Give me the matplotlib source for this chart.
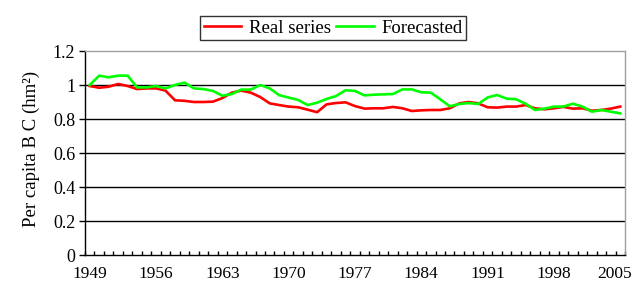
import matplotlib
matplotlib.use("Agg")
import matplotlib.pyplot as plt
import matplotlib.transforms as mtransforms
import numpy as np

years = list(range(1949, 2006))
real_series = [0.994, 0.984, 0.990, 1.006, 0.994, 0.976, 0.980, 0.980, 0.967, 0.910,
               0.907, 0.900, 0.900, 0.902, 0.923, 0.955, 0.967, 0.955, 0.929, 0.892,
               0.882, 0.873, 0.869, 0.855, 0.840, 0.886, 0.894, 0.898, 0.876, 0.861,
               0.863, 0.863, 0.871, 0.863, 0.847, 0.851, 0.853, 0.853, 0.863, 0.892,
               0.900, 0.892, 0.869, 0.867, 0.873, 0.873, 0.882, 0.863, 0.857, 0.863,
               0.871, 0.861, 0.863, 0.849, 0.853, 0.861, 0.873]
forecasted = [1.000, 1.055, 1.045, 1.055, 1.055, 0.986, 0.986, 0.994, 0.980, 1.000,
              1.014, 0.980, 0.976, 0.965, 0.937, 0.947, 0.973, 0.973, 1.000, 0.980,
              0.940, 0.926, 0.912, 0.882, 0.896, 0.918, 0.935, 0.969, 0.965, 0.939,
              0.943, 0.945, 0.947, 0.974, 0.974, 0.957, 0.955, 0.916, 0.875, 0.888,
              0.894, 0.888, 0.927, 0.941, 0.920, 0.916, 0.890, 0.853, 0.861, 0.873,
              0.873, 0.890, 0.873, 0.843, 0.853, 0.843, 0.833]
label_years = years[::7]
y_ticks = [0, 0.2, 0.4, 0.6, 0.8, 1.0, 1.2]
y_labels = ["0", "0.2", "0.4", "0.6", "0.8", "1", "1.2"]

plt.rcParams['font.family'] = ['Liberation Serif', 'DejaVu Serif']

fig = plt.figure(figsize=(6.34, 2.82), dpi=100)
ax = fig.add_axes([85/634, 27/282, 540/634, 204/282])

x = np.arange(len(years)) + 0.5
l1, = ax.plot(x, real_series, color='#ff0000', lw=1.9, label='Real series', zorder=3)
l2, = ax.plot(x, forecasted, color='#00ff00', lw=1.9, label='Forecasted', zorder=3)

ax.set_xlim(0, len(years))
ax.set_ylim(0, 1.2)

for yv in y_ticks[1:-1]:
    ax.axhline(yv, color='black', lw=1.0, zorder=1)

ax.set_yticks(y_ticks)
ax.set_yticklabels(y_labels, fontsize=13)
ax.tick_params(axis='y', direction='out', length=4, width=1, pad=3)

idx = [years.index(yv) for yv in label_years]
ax.set_xticks([i + 0.5 for i in idx])
ax.set_xticklabels([str(yv) for yv in label_years], fontsize=12.5)
ax.tick_params(axis='x', which='major', length=0, pad=8)
ax.set_xticks(np.arange(0, len(years) + 1), minor=True)
ax.tick_params(axis='x', which='minor', direction='in', length=3, width=1)

# nudge the last label so it stays inside the canvas
last = ax.get_xticklabels()[-1]
last.set_transform(last.get_transform() +
                   mtransforms.ScaledTranslation(-6/100, 0, fig.dpi_scale_trans))

for s in ['left', 'bottom']:
    ax.spines[s].set_color('black')
    ax.spines[s].set_linewidth(1.0)
for s in ['top', 'right']:
    ax.spines[s].set_color('#a0a0a0')
    ax.spines[s].set_linewidth(1.0)

ax.set_ylabel('Per capita B C (hm²)', fontsize=13.5, labelpad=8)
ax.yaxis.set_label_coords(-45/540, 0.52)

leg = fig.legend(handles=[l1, l2], loc='center', bbox_to_anchor=(333/634, 1 - 28/282),
                 ncol=2, frameon=True, fancybox=False, fontsize=13.5,
                 handlelength=2.0, handletextpad=0.4, columnspacing=0.3,
                 borderpad=0.2, borderaxespad=0)
leg.get_frame().set_edgecolor('black')
leg.get_frame().set_linewidth(1.0)

fig.savefig('out.png', dpi=100)
